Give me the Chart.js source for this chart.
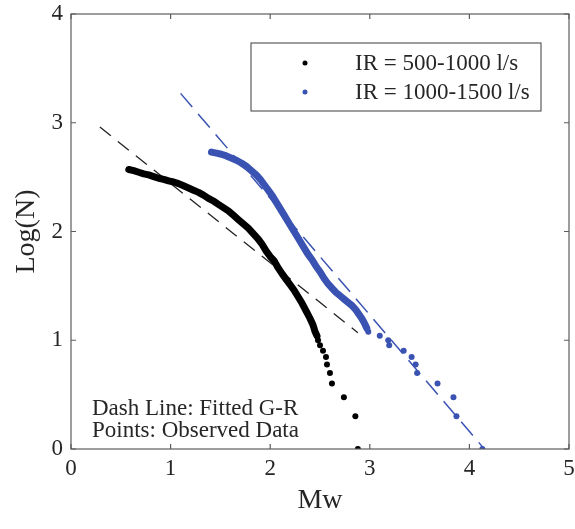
<!DOCTYPE html>
<html>
<head>
<meta charset="utf-8">
<script src="https://cdn.jsdelivr.net/npm/chart.js@4.4.0/dist/chart.umd.min.js"></script>
<style>
  html, body { margin: 0; padding: 0; background: #fff; }
  #wrap { width: 575px; height: 529px; }
</style>
</head>
<body>
<div id="wrap"><canvas id="chart"></canvas></div>
<script>
const xTicks = [0, 1, 2, 3, 4, 5];
const yTicks = [0, 1, 2, 3, 4];
const seriesNames = ['IR = 500-1000 l/s', 'IR = 1000-1500 l/s'];
const noteLines = ['Dash Line: Fitted G-R', 'Points: Observed Data'];

// IR = 500-1000: dense part of the observed curve
const lowMw = [0.58, 0.63, 0.68, 0.73, 0.78, 0.83, 0.88, 0.93, 0.98, 1.03, 1.08, 1.13, 1.18, 1.23, 1.28,
  1.33, 1.38, 1.43, 1.48, 1.53, 1.58, 1.63, 1.68, 1.73, 1.78, 1.83, 1.88, 1.92, 1.96, 2.00, 2.04, 2.08,
  2.12, 2.16, 2.20, 2.24, 2.28, 2.32, 2.36, 2.40, 2.43, 2.45, 2.47];
const lowLogN = [2.57, 2.56, 2.545, 2.53, 2.52, 2.505, 2.49, 2.48, 2.465, 2.455, 2.44, 2.42, 2.40, 2.38, 2.36,
  2.335, 2.305, 2.28, 2.25, 2.22, 2.19, 2.15, 2.11, 2.07, 2.03, 1.98, 1.93, 1.88, 1.82, 1.77, 1.73, 1.665,
  1.61, 1.56, 1.51, 1.46, 1.40, 1.34, 1.27, 1.20, 1.14, 1.08, 1.04];
// sparse tail
const lowTailMw = [2.48, 2.50, 2.53, 2.56, 2.57, 2.60, 2.62, 2.74, 2.855, 2.88];
const lowTailLogN = [1.0, 0.954, 0.903, 0.845, 0.778, 0.699, 0.602, 0.477, 0.301, 0];

// IR = 1000-1500
const highMw = [1.41, 1.46, 1.51, 1.56, 1.61, 1.66, 1.71, 1.76, 1.81, 1.86, 1.90, 1.94, 1.98, 2.02, 2.06,
  2.10, 2.14, 2.18, 2.22, 2.26, 2.30, 2.34, 2.38, 2.42, 2.46, 2.50, 2.54, 2.58, 2.62, 2.66, 2.70, 2.74,
  2.78, 2.82, 2.86, 2.89, 2.92, 2.95, 2.97];
const highLogN = [2.73, 2.72, 2.71, 2.695, 2.675, 2.655, 2.63, 2.60, 2.56, 2.52, 2.48, 2.43, 2.38, 2.33, 2.27,
  2.21, 2.15, 2.09, 2.03, 1.97, 1.91, 1.85, 1.79, 1.74, 1.68, 1.63, 1.57, 1.52, 1.48, 1.44, 1.41, 1.38,
  1.35, 1.32, 1.28, 1.24, 1.20, 1.15, 1.11];
const highTailMw = [2.985, 3.10, 3.185, 3.195, 3.34, 3.42, 3.46, 3.475, 3.68, 3.84, 3.87, 4.13];
const highTailLogN = [1.079, 1.041, 1.0, 0.954, 0.903, 0.845, 0.778, 0.699, 0.602, 0.477, 0.301, 0];

// fitted G-R lines (end points)
const lowFitMw = [0.29, 2.88];
const lowFitLogN = [2.96, 1.07];
const highFitMw = [1.10, 4.15];
const highFitLogN = [3.27, 0];

const black = '#000000';
const blue = '#3a53b3';
const axisColor = '#5c5c5c';
const textColor = '#262626';
const serif = "'Liberation Serif', 'Times New Roman', serif";

const pts = (xs, ys) => xs.map((v, i) => ({ x: v, y: ys[i] }));

const frame = {
  id: 'frame',
  afterDraw(chart) {
    const { ctx, chartArea: a, scales: { x, y } } = chart;
    ctx.save();
    ctx.strokeStyle = axisColor;
    ctx.lineWidth = 1.2;
    ctx.strokeRect(a.left, a.top, a.right - a.left, a.bottom - a.top);
    ctx.beginPath();
    xTicks.forEach(v => {
      const px = x.getPixelForValue(v);
      ctx.moveTo(px, a.bottom); ctx.lineTo(px, a.bottom - 5);
      ctx.moveTo(px, a.top); ctx.lineTo(px, a.top + 5);
    });
    yTicks.forEach(v => {
      const py = y.getPixelForValue(v);
      ctx.moveTo(a.left, py); ctx.lineTo(a.left + 5, py);
      ctx.moveTo(a.right, py); ctx.lineTo(a.right - 5, py);
    });
    ctx.stroke();

    // legend box
    const bx = a.left + 180, by = a.top + 29, bw = 290, bh = 68;
    ctx.fillStyle = '#fff';
    ctx.fillRect(bx, by, bw, bh);
    ctx.strokeRect(bx, by, bw, bh);
    ctx.font = '23px ' + serif;
    ctx.textBaseline = 'middle';
    [black, blue].forEach((c, i) => {
      const cy = by + 20 + i * 29;
      ctx.fillStyle = c;
      ctx.beginPath();
      ctx.arc(bx + 54, cy, 2.5, 0, Math.PI * 2);
      ctx.fill();
      ctx.fillStyle = textColor;
      ctx.fillText(seriesNames[i], bx + 104, cy + 1);
    });

    // note text
    ctx.textBaseline = 'alphabetic';
    ctx.fillStyle = textColor;
    noteLines.forEach((t, i) => ctx.fillText(t, a.left + 21, a.bottom - 34 + i * 22));
    ctx.restore();
  }
};

new Chart(document.getElementById('chart'), {
  type: 'scatter',
  data: {
    datasets: [
      { data: pts(lowMw, lowLogN), showLine: true, borderColor: black, backgroundColor: black,
        borderWidth: 7, pointRadius: 0, borderCapStyle: 'round', borderJoinStyle: 'round' },
      { data: pts(lowTailMw, lowTailLogN), backgroundColor: black, borderWidth: 0, pointRadius: 3 },
      { data: pts(highMw, highLogN), showLine: true, borderColor: blue, backgroundColor: blue,
        borderWidth: 7, pointRadius: 0, borderCapStyle: 'round', borderJoinStyle: 'round' },
      { data: pts(highTailMw, highTailLogN), backgroundColor: blue, borderWidth: 0, pointRadius: 3 },
      { data: pts(lowFitMw, lowFitLogN), showLine: true, borderColor: '#222', borderWidth: 1.3,
        borderDash: [14, 9], pointRadius: 0 },
      { data: pts(highFitMw, highFitLogN), showLine: true, borderColor: blue, borderWidth: 1.5,
        borderDash: [18, 9], pointRadius: 0 }
    ]
  },
  options: {
    responsive: true,
    maintainAspectRatio: false,
    animation: false,
    layout: { padding: { top: 14, right: 6, left: 0, bottom: 0 } },
    plugins: { legend: { display: false }, tooltip: { enabled: false } },
    scales: {
      x: {
        type: 'linear', min: 0, max: 5,
        afterBuildTicks: s => { s.ticks = xTicks.map(v => ({ value: v })); },
        afterFit: s => { s.height = 80; s.paddingLeft = 0; s.paddingRight = 0; },
        grid: { display: false, drawTicks: false },
        border: { display: false },
        ticks: { color: textColor, padding: 6, maxRotation: 0, font: { family: serif, size: 23 } },
        title: { display: true, text: 'Mw', color: textColor, padding: { top: 0, bottom: 12 },
          font: { family: serif, size: 28 } }
      },
      y: {
        type: 'linear', min: 0, max: 4,
        afterBuildTicks: s => { s.ticks = yTicks.map(v => ({ value: v })); },
        afterFit: s => { s.width = 71; s.paddingTop = 0; s.paddingBottom = 0; },
        grid: { display: false, drawTicks: false },
        border: { display: false },
        ticks: { color: textColor, padding: 8, font: { family: serif, size: 23 } },
        title: { display: true, text: 'Log(N)', color: textColor, padding: { top: 10, bottom: 0 },
          font: { family: serif, size: 28 } }
      }
    }
  },
  plugins: [frame]
});
</script>
</body>
</html>
